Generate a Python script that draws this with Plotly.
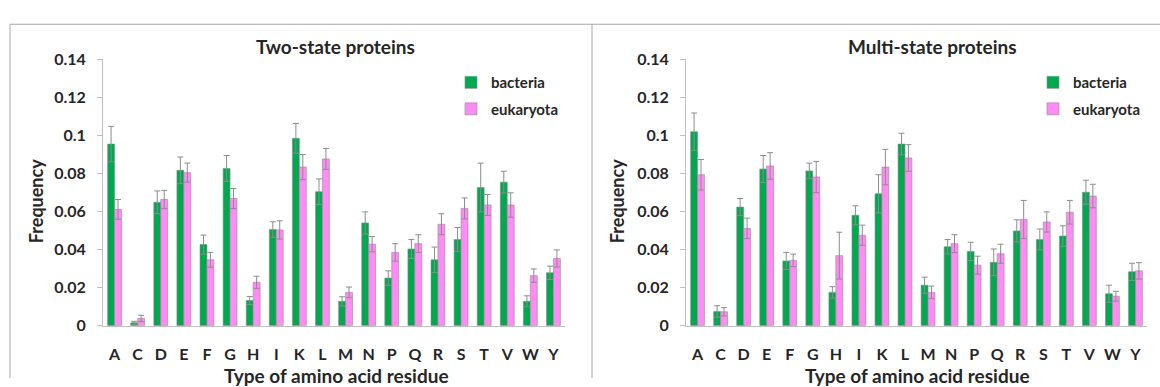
import plotly.graph_objects as go

residues = ["A", "C", "D", "E", "F", "G", "H", "I", "K", "L",
            "M", "N", "P", "Q", "R", "S", "T", "V", "W", "Y"]

# Two-state proteins
two_bact = [0.0954, 0.0015, 0.0648, 0.0816, 0.0426, 0.0826, 0.0132, 0.0505, 0.0984, 0.0704,
            0.0128, 0.0540, 0.0250, 0.0403, 0.0346, 0.0453, 0.0726, 0.0754, 0.0128, 0.0278]
two_bact_err = [0.0093, 0.0008, 0.0060, 0.0070, 0.0050, 0.0068, 0.0021, 0.0041, 0.0078, 0.0067,
                0.0024, 0.0058, 0.0038, 0.0050, 0.0067, 0.0063, 0.0128, 0.0057, 0.0029, 0.0035]
two_euk = [0.0611, 0.0038, 0.0663, 0.0804, 0.0346, 0.0668, 0.0228, 0.0503, 0.0833, 0.0876,
           0.0175, 0.0428, 0.0385, 0.0431, 0.0533, 0.0616, 0.0634, 0.0634, 0.0263, 0.0353]
two_euk_err = [0.0052, 0.0017, 0.0048, 0.0050, 0.0039, 0.0053, 0.0032, 0.0048, 0.0066, 0.0055,
               0.0028, 0.0040, 0.0046, 0.0047, 0.0055, 0.0055, 0.0055, 0.0064, 0.0035, 0.0045]

# Multi-state proteins
multi_bact = [0.1019, 0.0075, 0.0623, 0.0823, 0.0340, 0.0813, 0.0175, 0.0580, 0.0693, 0.0954,
              0.0213, 0.0415, 0.0390, 0.0333, 0.0498, 0.0453, 0.0471, 0.0701, 0.0168, 0.0283]
multi_bact_err = [0.0098, 0.0030, 0.0045, 0.0071, 0.0045, 0.0041, 0.0030, 0.0050, 0.0100, 0.0057,
                  0.0042, 0.0038, 0.0048, 0.0070, 0.0058, 0.0055, 0.0054, 0.0063, 0.0045, 0.0045]
multi_euk = [0.0793, 0.0073, 0.0511, 0.0839, 0.0343, 0.0781, 0.0368, 0.0475, 0.0833, 0.0881,
             0.0175, 0.0431, 0.0318, 0.0378, 0.0558, 0.0545, 0.0596, 0.0681, 0.0155, 0.0288]
multi_euk_err = [0.0080, 0.0022, 0.0054, 0.0070, 0.0033, 0.0082, 0.0123, 0.0053, 0.0093, 0.0070,
                 0.0033, 0.0047, 0.0047, 0.0050, 0.0100, 0.0053, 0.0062, 0.0062, 0.0026, 0.0043]

series_names = ["bacteria", "eukaryota"]
panel_titles = ["Two-state proteins", "Multi-state proteins"]
y_title = "Frequency"
x_title = "Type of amino acid residue"

GREEN = "#00A84F"
PINK = "#FF8CF5"
ERR = "#8C8C8C"
AXC = "#BFBFBF"
TXT = "#262626"
FONT = "Lato"

W, H = 1160, 387


def px(x):
    return x / W


def py(y):
    return 1 - y / H


fig = go.Figure()

panels = [
    (two_bact, two_bact_err, two_euk, two_euk_err, "x", "y", "legend"),
    (multi_bact, multi_bact_err, multi_euk, multi_euk_err, "x2", "y2", "legend2"),
]
for (b, be, e, ee, xa, ya, lg) in panels:
    for name, vals, errs, col, grp in [(series_names[0], b, be, GREEN, "g1"),
                                        (series_names[1], e, ee, PINK, "g2")]:
        fig.add_trace(go.Bar(
            x=residues, y=vals, name=name, xaxis=xa, yaxis=ya, legend=lg,
            legendgroup=grp + xa,
            marker=dict(color=col, line=dict(color="#8a8a8a", width=0.6)),
            error_y=dict(type="data", array=errs, visible=True, color=ERR,
                         thickness=1, width=3),
        ))

y_dom = [py(332), py(51.7)]
x1_dom = [px(103), px(565)]
x2_dom = [px(686), px(1147)]

axis_common_x = dict(
    type="category", showline=True, linecolor=AXC, linewidth=1, ticks="",
    showgrid=False, zeroline=False,
    tickfont=dict(family=FONT, size=16, color=TXT, weight="bold"),
    ticklabelstandoff=14,
)
axis_common_y = dict(
    range=[0, 0.14], dtick=0.02, showline=True, linecolor=AXC, linewidth=1,
    ticks="outside", ticklen=5, tickcolor=AXC, showgrid=False, zeroline=False,
    tickfont=dict(family=FONT, size=16, color=TXT, weight="bold"),
    ticklabelstandoff=8,
)

legend_font = dict(family=FONT, size=15, color=TXT, weight="bold")
fig.update_layout(
    width=W, height=H,
    margin=dict(l=0, r=0, t=0, b=0),
    paper_bgcolor="white", plot_bgcolor="white",
    barmode="group", bargap=0.4, bargroupgap=0,
    font=dict(family=FONT, color=TXT),
    xaxis=dict(domain=x1_dom, anchor="y", **axis_common_x),
    yaxis=dict(domain=y_dom, anchor="x", **axis_common_y),
    xaxis2=dict(domain=x2_dom, anchor="y2", **axis_common_x),
    yaxis2=dict(domain=y_dom, anchor="x2", **axis_common_y),
    legend=dict(x=px(451), y=py(59), xanchor="left", yanchor="top",
                font=legend_font, tracegroupgap=4, bgcolor="rgba(0,0,0,0)"),
    legend2=dict(x=px(1033), y=py(59), xanchor="left", yanchor="top",
                 font=legend_font, tracegroupgap=4, bgcolor="rgba(0,0,0,0)"),
    showlegend=True,
)

anns = []
for title, cx, ax_x, xt_x in [(panel_titles[0], 335, 36, 336),
                              (panel_titles[1], 932, 617, 917)]:
    anns.append(dict(text=title, x=px(cx), y=py(38), xref="paper", yref="paper",
                     showarrow=False, xanchor="center", yanchor="middle",
                     font=dict(family=FONT, size=19, color=TXT, weight="bold")))
    anns.append(dict(text=y_title, x=px(ax_x), y=py(201), xref="paper", yref="paper",
                     showarrow=False, xanchor="center", yanchor="middle", textangle=-90,
                     font=dict(family=FONT, size=18, color=TXT, weight="bold")))
    anns.append(dict(text=x_title, x=px(xt_x), y=py(384), xref="paper", yref="paper",
                     showarrow=False, xanchor="center", yanchor="middle",
                     font=dict(family=FONT, size=19, color=TXT, weight="bold")))
fig.update_layout(annotations=anns)

# panel borders
BORDER = "#A6A6A6"
fig.add_shape(type="line", xref="paper", yref="paper", x0=px(10), x1=1, y0=py(15), y1=py(15),
              line=dict(color=BORDER, width=1))
fig.add_shape(type="line", xref="paper", yref="paper", x0=px(10), x1=px(10), y0=py(15), y1=0,
              line=dict(color=BORDER, width=1))
fig.add_shape(type="line", xref="paper", yref="paper", x0=px(592), x1=px(592), y0=py(15), y1=0,
              line=dict(color=BORDER, width=1))

fig.write_html("out.html")
